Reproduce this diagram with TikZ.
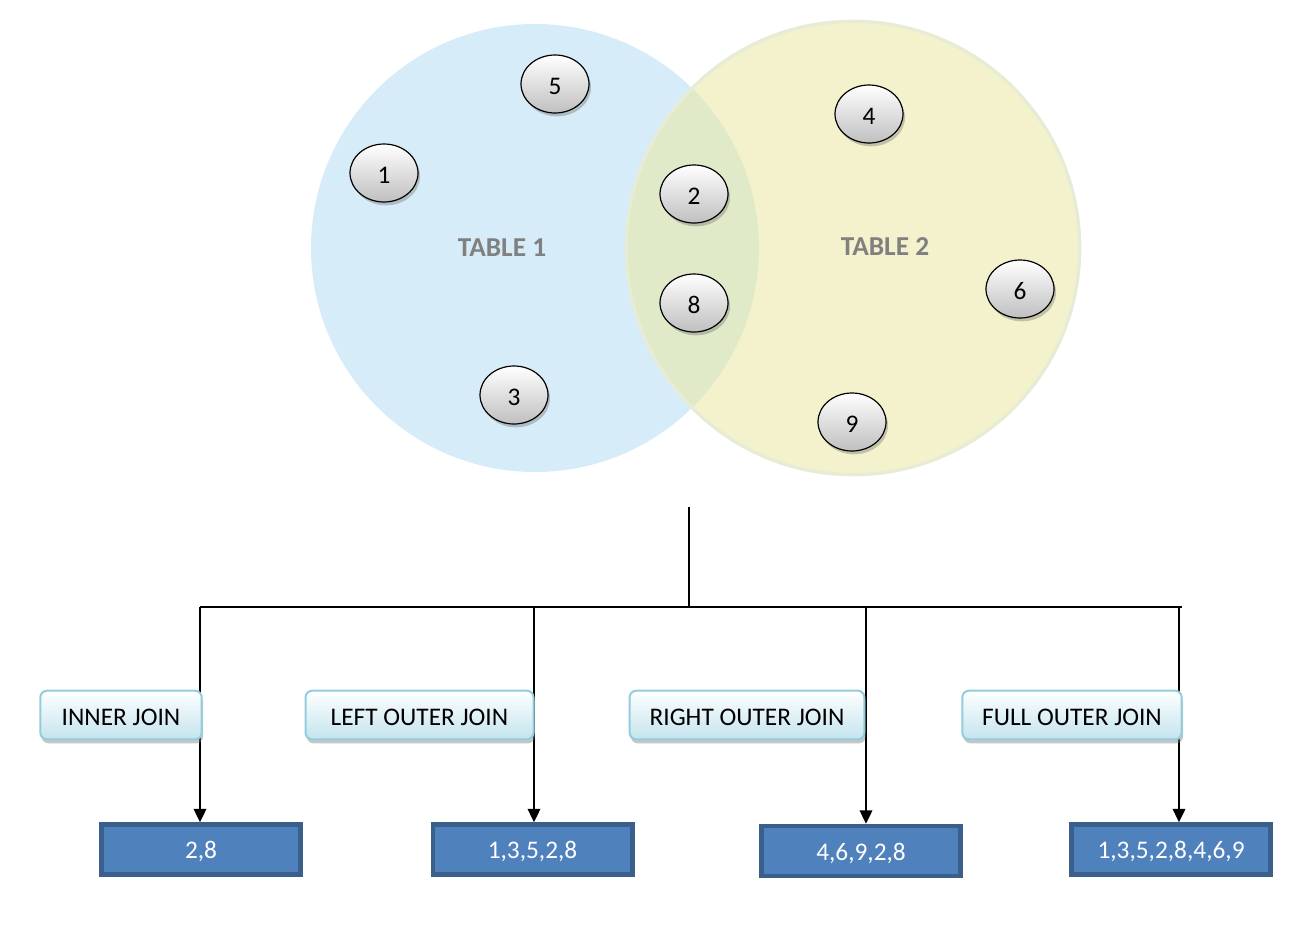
\documentclass[tikz,border=0pt]{standalone}
\usepackage{fontspec}
\setmainfont{Carlito}
\usetikzlibrary{shadows,arrows.meta,shapes.geometric}
\definecolor{tblue}{HTML}{D6ECF8}
\definecolor{tyellow}{HTML}{E9E7A2}
\definecolor{tyborder}{HTML}{E6ECD6}
\definecolor{labgray}{HTML}{808080}
\definecolor{joinborder}{HTML}{93CDDD}
\definecolor{joinbottom}{HTML}{C3E4EE}
\definecolor{resfill}{HTML}{4F81BD}
\definecolor{resborder}{HTML}{3A5F8B}
\begin{document}
\begin{tikzpicture}[x=0.75pt,y=-0.75pt,
  elem/.style={ellipse,draw=black,line width=0.9pt,minimum width=51pt,minimum height=43.5pt,inner sep=0pt,
    top color=white,bottom color=black!25,font=\fontsize{19}{19}\selectfont,text height=15.5pt,
    drop shadow={shadow xshift=1.5pt,shadow yshift=-2.5pt,opacity=0.35,fill=black!60}},
  tlabel/.style={font=\fontsize{20.5}{20.5}\selectfont\bfseries,text=labgray},
  joinbox/.style={draw=joinborder,line width=1.5pt,rounded corners=5pt,top color=white,bottom color=joinbottom,
    minimum height=36.5pt,inner sep=0pt,font=\fontsize{19}{19}\selectfont,text height=16pt,
    drop shadow={shadow xshift=1pt,shadow yshift=-3pt,opacity=0.45,fill=black!50}},
  resbox/.style={fill=resfill,draw=resborder,line width=3.5pt,minimum width=149.5pt,minimum height=37.5pt,
    inner sep=0pt,text=white,font=\fontsize{19}{19}\selectfont,text height=16pt},
  conn/.style={line width=1.2pt,draw=black},
  arr/.style={conn,-{Triangle[width=9.5pt,length=10pt]}}]
\useasboundingbox (0,0) rectangle (1307,926);
% venn circles
\fill[tblue] (535,248) circle (168pt);
\fill[tyellow,fill opacity=0.55] (853,248) circle (171pt);
\draw[tyborder,line width=2.5pt] (853,248) circle (170pt);
\node[tlabel] (t1) at (502,248) {TABLE 1};
\node[tlabel] (t2) at (885,247) {TABLE 2};
% elements
\node[elem] (e5) at (555,84) {5};
\node[elem] (e1) at (384,173) {1};
\node[elem] (e2) at (694,194) {2};
\node[elem] (e8) at (694,303) {8};
\node[elem] (e3) at (514,395) {3};
\node[elem] (e4) at (869,114) {4};
\node[elem] (e6) at (1020,289) {6};
\node[elem] (e9) at (852,422) {9};
% tree connectors
\coordinate (top) at (689,507);
\coordinate (hub) at (689,607);
\coordinate (b1) at (200,607);
\coordinate (b2) at (534,607);
\coordinate (b3) at (866,607);
\coordinate (b4) at (1179,607);
\coordinate (bend) at (1182,607);
% result boxes
\node[resbox] (r1) at (201,849.5) {2,8};
\node[resbox] (r2) at (532.5,849.5) {1,3,5,2,8};
\node[resbox] (r3) at (861,851) {4,6,9,2,8};
\node[resbox] (r4) at (1171,849.5) {1,3,5,2,8,4,6,9};
\draw[conn] (top) -- (hub);
\draw[conn] (b1) -- (bend);
\draw[arr] (b1) -- (b1 |- r1.north);
\draw[arr] (b2) -- (b2 |- r2.north);
\draw[arr] (b3) -- (b3 |- r3.north);
\draw[arr] (b4) -- (b4 |- r4.north);
% join labels
\node[joinbox,minimum width=121pt] (j1) at (121,715) {INNER JOIN};
\node[joinbox,minimum width=171pt] (j2) at (419.5,715) {LEFT OUTER JOIN};
\node[joinbox,minimum width=176pt] (j3) at (747,715) {RIGHT OUTER JOIN};
\node[joinbox,minimum width=164.5pt] (j4) at (1072,715) {FULL OUTER JOIN};
\end{tikzpicture}
\end{document}
